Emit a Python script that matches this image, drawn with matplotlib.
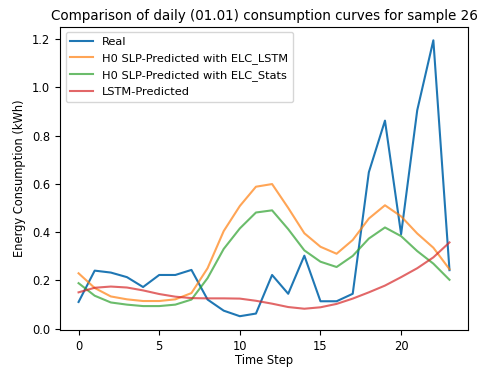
import matplotlib
matplotlib.use("Agg")
import matplotlib.pyplot as plt

hours = list(range(24))

real = [0.11, 0.24, 0.232, 0.213, 0.172, 0.222, 0.222, 0.243, 0.12, 0.074, 0.051, 0.062,
        0.222, 0.144, 0.302, 0.113, 0.113, 0.144, 0.648, 0.862, 0.391, 0.905, 1.195, 0.242]
slp_lstm = [0.229, 0.168, 0.133, 0.121, 0.114, 0.114, 0.121, 0.147, 0.25, 0.404, 0.508, 0.588,
            0.599, 0.5, 0.395, 0.339, 0.31, 0.367, 0.456, 0.511, 0.465, 0.394, 0.335, 0.246]
slp_stats = [0.188, 0.136, 0.108, 0.099, 0.093, 0.093, 0.099, 0.12, 0.209, 0.33, 0.415, 0.481,
             0.49, 0.412, 0.324, 0.277, 0.255, 0.301, 0.373, 0.419, 0.383, 0.321, 0.269, 0.202]
lstm_pred = [0.15, 0.169, 0.174, 0.17, 0.158, 0.143, 0.132, 0.126, 0.125, 0.125, 0.124, 0.115,
             0.103, 0.089, 0.082, 0.088, 0.102, 0.124, 0.15, 0.178, 0.213, 0.25, 0.295, 0.357]

fig = plt.figure(figsize=(4.84, 3.71), dpi=100)
ax = fig.add_axes([0.124, 0.1105, 0.843, 0.818])

ax.plot(hours, real, label="Real")
ax.plot(hours, slp_lstm, label="H0 SLP-Predicted with ELC_LSTM", alpha=0.7)
ax.plot(hours, slp_stats, label="H0 SLP-Predicted with ELC_Stats", alpha=0.7)
ax.plot(hours, lstm_pred, label="LSTM-Predicted", alpha=0.7)

ax.set_title("Comparison of daily (01.01) consumption curves for sample 26", fontsize=9.75, pad=5)
ax.set_xlabel("Time Step", fontsize=8.3, labelpad=1)
ax.set_ylabel("Energy Consumption (kWh)", fontsize=8.3, labelpad=4)
ax.tick_params(labelsize=8.3)
ax.legend(loc="upper left", fontsize=8.2, labelspacing=0.55)

fig.savefig("out.png", dpi=100)
